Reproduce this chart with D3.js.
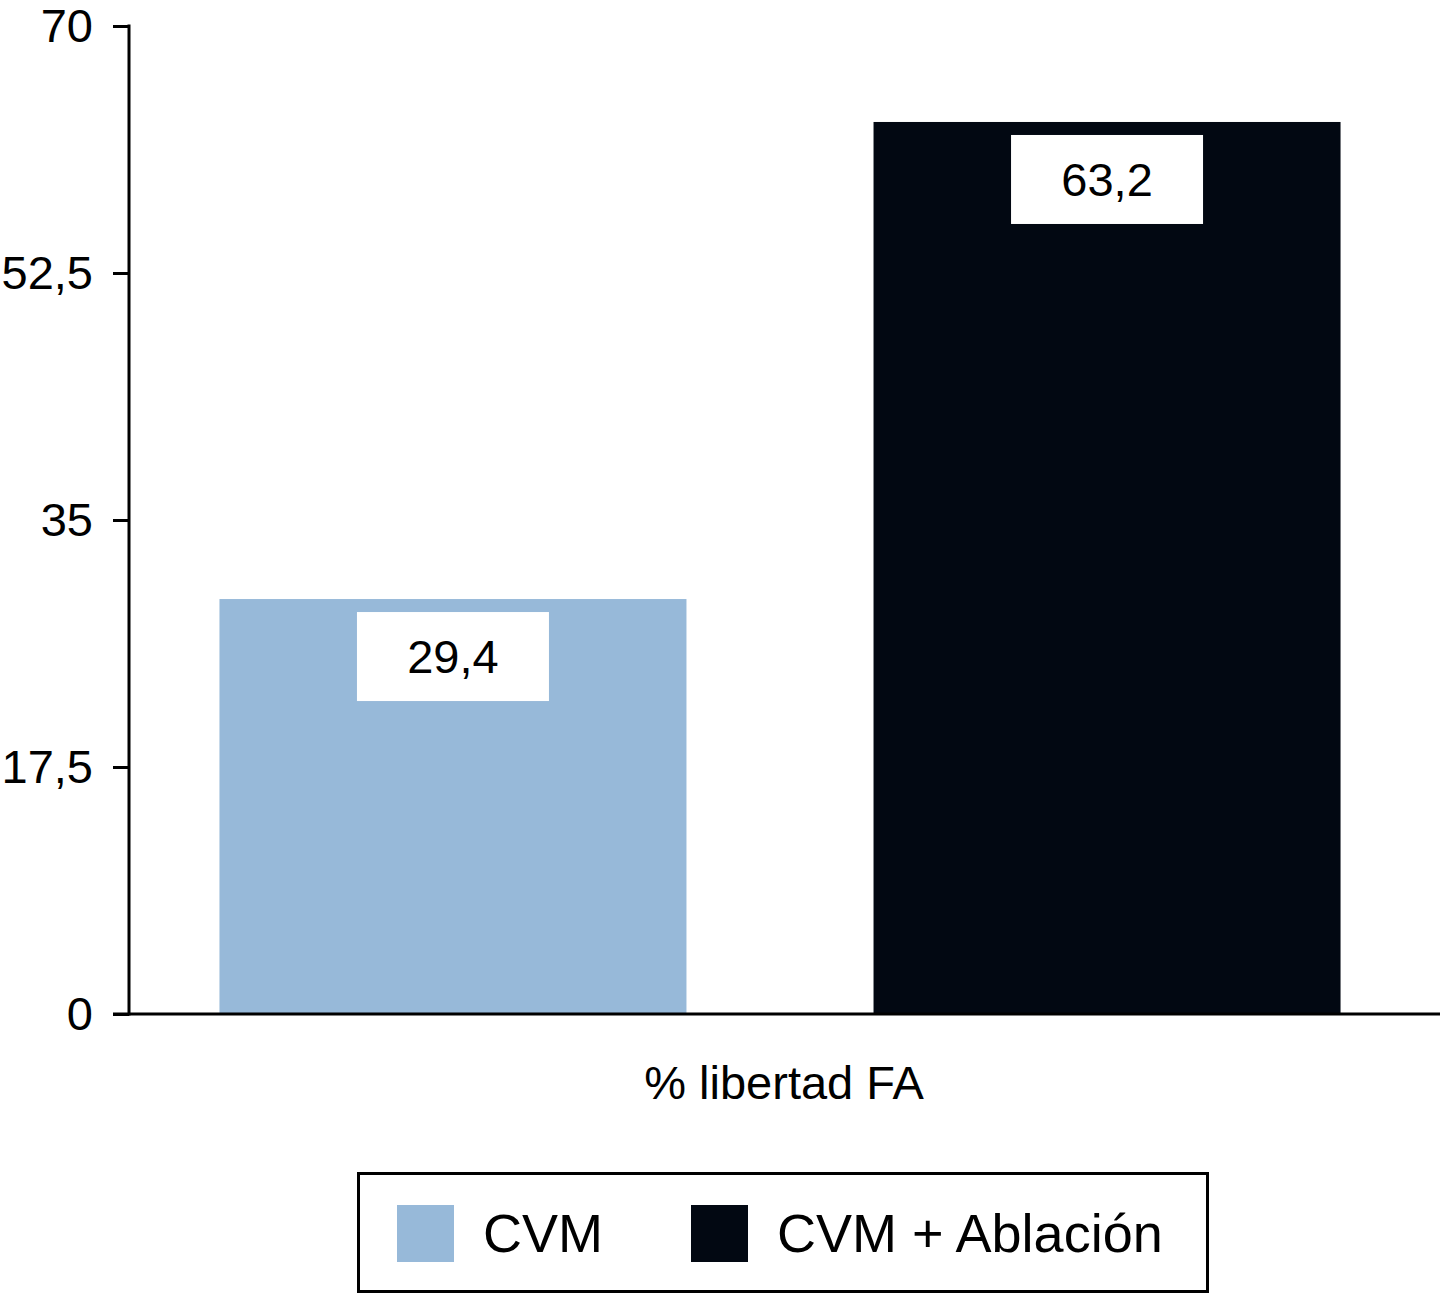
<!DOCTYPE html>
<html>
<head>
<meta charset="utf-8">
<script src="https://cdn.jsdelivr.net/npm/d3@7"></script>
<style>
  html, body { margin: 0; padding: 0; background: #fff; }
  svg { display: block; font-family: "Liberation Sans", Arial, Helvetica, sans-serif; }
</style>
</head>
<body>
<svg id="chart" width="1440" height="1295"></svg>
<script>
// data
const categories = ['CVM', 'CVM + Ablación'];
const values = [29.4, 63.2];
const colors = ['#97b9d9', '#020812'];
const yTicks = [0, 17.5, 35, 52.5, 70];
const xLabel = '% libertad FA';

const W = 1440, H = 1295;
const axisX = 129, axisY = 1014, topY = 26;

const es = d3.formatLocale({ decimal: ',', thousands: '.', grouping: [3], currency: ['', '€'] });
const fmt = es.format('~r');

const svg = d3.select('#chart');

const y = d3.scaleLinear().domain([0, 70]).range([axisY, topY]);
const x = d3.scaleBand()
  .domain(categories)
  .range([122, 1438])
  .paddingInner(0.286)
  .paddingOuter(0.149);

// bars
svg.append('g')
  .selectAll('rect')
  .data(categories)
  .join('rect')
  .attr('x', d => x(d))
  .attr('y', (d, i) => y(values[i]))
  .attr('width', x.bandwidth())
  .attr('height', (d, i) => y(0) - y(values[i]))
  .attr('fill', (d, i) => colors[i]);

// value labels in white boxes
const boxW = 192, boxH = 89;
const lab = svg.append('g')
  .selectAll('g')
  .data(categories)
  .join('g')
  .attr('transform', (d, i) => `translate(${x(d) + x.bandwidth() / 2},${y(values[i]) + 13})`);
lab.append('rect')
  .attr('x', -boxW / 2)
  .attr('y', 0)
  .attr('width', boxW)
  .attr('height', boxH)
  .attr('fill', '#fff');
lab.append('text')
  .attr('y', 61)
  .attr('text-anchor', 'middle')
  .attr('font-size', 47)
  .attr('fill', '#000')
  .text((d, i) => fmt(values[i]));

// y axis
const yAxis = svg.append('g')
  .attr('transform', `translate(${axisX},0)`)
  .call(d3.axisLeft(y)
    .tickValues(yTicks)
    .tickSize(16)
    .tickPadding(20)
    .tickFormat(d => fmt(d)));
yAxis.select('.domain').remove();
yAxis.selectAll('.tick line').attr('stroke', '#000').attr('stroke-width', 3);
yAxis.selectAll('.tick text')
  .attr('font-size', 47)
  .attr('fill', '#000')
  .attr('font-family', '"Liberation Sans", Arial, Helvetica, sans-serif');

// axis lines
svg.append('line')
  .attr('x1', axisX).attr('x2', axisX)
  .attr('y1', topY - 1.5).attr('y2', axisY + 1.5)
  .attr('stroke', '#000').attr('stroke-width', 3);
svg.append('line')
  .attr('x1', axisX - 16).attr('x2', W)
  .attr('y1', axisY).attr('y2', axisY)
  .attr('stroke', '#000').attr('stroke-width', 3);

// x label
svg.append('text')
  .attr('x', 784)
  .attr('y', 1099)
  .attr('text-anchor', 'middle')
  .attr('font-size', 47)
  .attr('fill', '#000')
  .text(xLabel);

// legend
const legend = svg.append('g');
legend.append('rect')
  .attr('x', 358.5).attr('y', 1173.5)
  .attr('width', 849).attr('height', 118)
  .attr('fill', '#fff')
  .attr('stroke', '#000')
  .attr('stroke-width', 3);
const legendX = [397, 691];
const item = legend.selectAll('g.item')
  .data(categories)
  .join('g')
  .attr('class', 'item')
  .attr('transform', (d, i) => `translate(${legendX[i]},1205)`);
item.append('rect')
  .attr('width', 57)
  .attr('height', 57)
  .attr('fill', (d, i) => colors[i]);
item.append('text')
  .attr('x', 86)
  .attr('y', 47)
  .attr('font-size', 54)
  .attr('fill', '#000')
  .text(d => d);
</script>
</body>
</html>
